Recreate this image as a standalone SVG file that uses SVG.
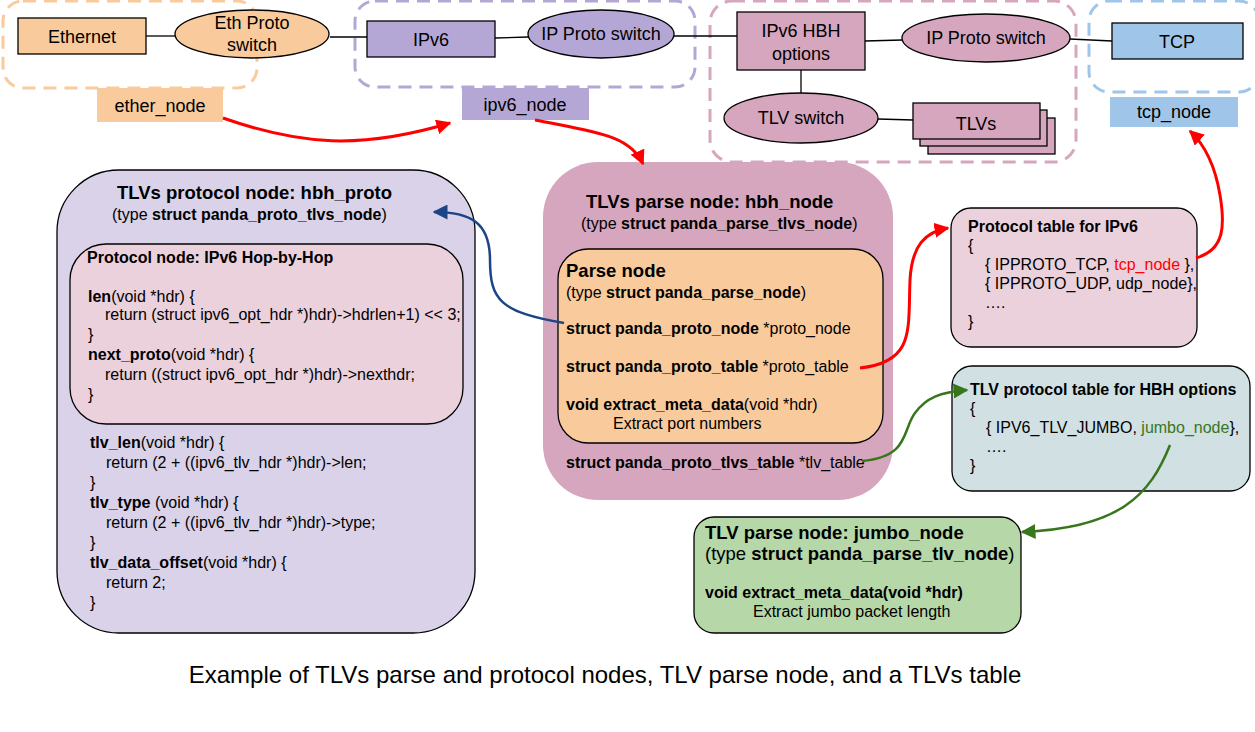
<svg xmlns="http://www.w3.org/2000/svg" width="1255" height="732" viewBox="0 0 1255 732">
<defs>
<style>
text{font-family:"Liberation Sans",Arial,sans-serif;fill:#000}
.n{stroke:#000;stroke-width:1.3}
.dash{fill:none;stroke-width:3;stroke-dasharray:13 8}
.lbl{font-size:18px}
.t{font-size:18.5px;font-weight:bold}
.s{font-size:16px}
.c{font-size:16px}
.b{font-weight:bold}
.ln{stroke:#000;stroke-width:1.3;fill:none}
.red{stroke:#ff0000;stroke-width:3;fill:none}
.blue{stroke:#1c4587;stroke-width:2.5;fill:none}
.green{stroke:#38761d;stroke-width:2.5;fill:none}
</style>
<marker id="ar" viewBox="0 0 10 10" refX="9" refY="5" markerWidth="5" markerHeight="5" orient="auto" markerUnits="strokeWidth"><path d="M0,0 L10,5 L0,10 z" fill="#ff0000"/></marker>
<marker id="ab" viewBox="0 0 10 10" refX="9" refY="5" markerWidth="6" markerHeight="6" orient="auto" markerUnits="strokeWidth"><path d="M0,0 L10,5 L0,10 z" fill="#1c4587"/></marker>
<marker id="ag" viewBox="0 0 10 10" refX="9" refY="5" markerWidth="6" markerHeight="6" orient="auto" markerUnits="strokeWidth"><path d="M0,0 L10,5 L0,10 z" fill="#38761d"/></marker>
</defs>
<rect width="1255" height="732" fill="#fff"/>

<g id="groups">
<rect x="3" y="1" width="254" height="87" rx="20" class="dash" stroke="#f9cb9c"/>
<rect x="355" y="1" width="340" height="86" rx="20" class="dash" stroke="#b4a7d6"/>
<rect x="710" y="1" width="366" height="161" rx="22" class="dash" stroke="#d5a6bd"/>
<rect x="1089" y="1" width="170" height="91" rx="20" class="dash" stroke="#9fc5e8"/>
</g>

<g id="connectors">
<line x1="146" y1="36" x2="175" y2="36" class="ln"/>
<line x1="330" y1="37" x2="367" y2="37" class="ln"/>
<line x1="495" y1="38" x2="528" y2="37" class="ln"/>
<line x1="674" y1="36" x2="737" y2="36" class="ln"/>
<line x1="865" y1="41" x2="902" y2="40" class="ln"/>
<line x1="1070" y1="39" x2="1112" y2="41" class="ln"/>
<line x1="801" y1="70" x2="801" y2="94" class="ln"/>
<line x1="878" y1="119" x2="913" y2="120" class="ln"/>
</g>

<g id="ethernet"><rect x="18" y="18" width="128" height="36" fill="#f9cb9c" class="n"/><text x="82" y="43" text-anchor="middle" class="lbl">Ethernet</text></g>
<g id="eth-switch"><ellipse cx="252" cy="34" rx="77" ry="24" fill="#f9cb9c" class="n"/><text x="252" y="29" text-anchor="middle" class="lbl">Eth Proto</text><text x="252" y="51" text-anchor="middle" class="lbl">switch</text></g>
<g id="ipv6"><rect x="367" y="21" width="128" height="36" fill="#b4a7d6" class="n"/><text x="431" y="46" text-anchor="middle" class="lbl">IPv6</text></g>
<g id="ip-switch1"><ellipse cx="601" cy="34" rx="73" ry="24" fill="#b4a7d6" class="n"/><text x="601" y="40" text-anchor="middle" class="lbl">IP Proto switch</text></g>
<g id="hbh"><rect x="737" y="12" width="128" height="58" fill="#d5a6bd" class="n"/><text x="801" y="37" text-anchor="middle" class="lbl">IPv6 HBH</text><text x="801" y="60" text-anchor="middle" class="lbl">options</text></g>
<g id="ip-switch2"><ellipse cx="986" cy="38" rx="84" ry="24" fill="#d5a6bd" class="n"/><text x="986" y="44" text-anchor="middle" class="lbl">IP Proto switch</text></g>
<g id="tcp"><rect x="1112" y="23" width="131" height="36" fill="#9fc5e8" class="n"/><text x="1177" y="48" text-anchor="middle" class="lbl">TCP</text></g>
<g id="tlv-switch"><ellipse cx="801" cy="118" rx="77" ry="25" fill="#d5a6bd" class="n"/><text x="801" y="124" text-anchor="middle" class="lbl">TLV switch</text></g>
<g id="tlvs">
<rect x="928" y="118" width="127" height="36" fill="#d5a6bd" class="n"/>
<rect x="920" y="110" width="127" height="36" fill="#d5a6bd" class="n"/>
<rect x="913" y="103" width="127" height="36" fill="#d5a6bd" class="n"/>
<text x="976" y="130" text-anchor="middle" class="lbl">TLVs</text></g>

<g id="ether_node"><rect x="97" y="88" width="126" height="34" fill="#f9cb9c"/><text x="160" y="112" text-anchor="middle" class="lbl">ether_node</text></g>
<g id="ipv6_node"><rect x="462" y="88" width="127" height="32" fill="#b4a7d6"/><text x="525" y="111" text-anchor="middle" class="lbl">ipv6_node</text></g>
<g id="tcp_node"><rect x="1110" y="97" width="128" height="30" fill="#9fc5e8"/><text x="1174" y="118" text-anchor="middle" class="lbl">tcp_node</text></g>

<g id="hbh_proto">
<rect x="57" y="170" width="418" height="463" rx="62" fill="#d9d2e9" class="n"/>
<text x="117" y="199" class="t">TLVs protocol node: hbh_proto</text>
<text x="112" y="220" class="s">(type <tspan class="b">struct panda_proto_tlvs_node</tspan>)</text>
<rect x="70" y="244" width="393" height="180" rx="36" fill="#ead1dc" class="n"/>
<text x="87" y="263" class="c b">Protocol node: IPv6 Hop-by-Hop</text>
<text x="88" y="302" class="c"><tspan class="b">len</tspan>(void *hdr) {</text>
<text x="105" y="320" class="c">return (struct ipv6_opt_hdr *)hdr)-&gt;hdrlen+1) &lt;&lt; 3;</text>
<text x="88" y="340" class="c">}</text>
<text x="88" y="360" class="c"><tspan class="b">next_proto</tspan>(void *hdr) {</text>
<text x="105" y="380" class="c">return ((struct ipv6_opt_hdr *)hdr)-&gt;nexthdr;</text>
<text x="88" y="400" class="c">}</text>
<text x="90" y="448" class="c"><tspan class="b">tlv_len</tspan>(void *hdr) {</text>
<text x="106" y="468" class="c">return (2 + ((ipv6_tlv_hdr *)hdr)-&gt;len;</text>
<text x="90" y="488" class="c">}</text>
<text x="90" y="508" class="c"><tspan class="b">tlv_type</tspan> (void *hdr) {</text>
<text x="106" y="528" class="c">return (2 + ((ipv6_tlv_hdr *)hdr)-&gt;type;</text>
<text x="90" y="548" class="c">}</text>
<text x="90" y="568" class="c"><tspan class="b">tlv_data_offset</tspan>(void *hdr) {</text>
<text x="106" y="588" class="c">return 2;</text>
<text x="90" y="608" class="c">}</text>
</g>

<g id="hbh_node">
<rect x="543" y="162" width="350" height="338" rx="55" fill="#d5a6bd"/>
<text x="586" y="208" class="t">TLVs parse node: hbh_node</text>
<text x="581" y="229" class="s">(type <tspan class="b">struct panda_parse_tlvs_node</tspan>)</text>
<rect x="558" y="249" width="325" height="194" rx="30" fill="#f9cb9c" class="n"/>
<text x="566" y="277" class="t">Parse node</text>
<text x="566" y="298" class="c">(type <tspan class="b">struct panda_parse_node</tspan>)</text>
<text x="566" y="334" class="c"><tspan class="b">struct panda_proto_node</tspan> *proto_node</text>
<text x="566" y="372" class="c"><tspan class="b">struct panda_proto_table</tspan> *proto_table</text>
<text x="566" y="410" class="c"><tspan class="b">void extract_meta_data</tspan>(void *hdr)</text>
<text x="613" y="429" class="c">Extract port numbers</text>
<text x="566" y="468" class="c"><tspan class="b">struct panda_proto_tlvs_table</tspan> *tlv_table</text>
</g>

<g id="ipv6_table">
<rect x="951" y="208" width="246" height="139" rx="20" fill="#ead1dc" class="n"/>
<text x="968" y="232" class="c b">Protocol table for IPv6</text>
<text x="968" y="251" class="c">{</text>
<text x="985" y="270" class="c">{ IPPROTO_TCP, <tspan fill="#ff0000">tcp_node</tspan> },</text>
<text x="985" y="289" class="c">{ IPPROTO_UDP, udp_node},</text>
<text x="985" y="308" class="c">….</text>
<text x="968" y="327" class="c">}</text>
</g>

<g id="tlv_table">
<rect x="952" y="366" width="298" height="125" rx="20" fill="#d0e0e3" class="n"/>
<text x="970" y="395" class="c b">TLV protocol table for HBH options</text>
<text x="970" y="414" class="c">{</text>
<text x="986" y="433" class="c">{ IPV6_TLV_JUMBO, <tspan fill="#38761d">jumbo_node</tspan>},</text>
<text x="986" y="452" class="c">….</text>
<text x="970" y="471" class="c">}</text>
</g>

<g id="jumbo_node">
<rect x="694" y="517" width="327" height="116" rx="20" fill="#b6d7a8" class="n"/>
<text x="705" y="539" class="t">TLV parse node: jumbo_node</text>
<text x="705" y="560" class="t"><tspan font-weight="normal">(type </tspan>struct panda_parse_tlv_node<tspan font-weight="normal">)</tspan></text>
<text x="705" y="598" class="c b">void extract_meta_data(void *hdr)</text>
<text x="753" y="617" class="c">Extract jumbo packet length</text>
</g>

<g id="arrows">
<path d="M223,118 C300,145 360,150 450,123" class="red" marker-end="url(#ar)"/>
<path d="M535,120 C595,132 630,135 643,164" class="red" marker-end="url(#ar)"/>
<path d="M860,368 C915,362 908,330 910,280 C912,245 925,232 948,228" class="red" marker-end="url(#ar)"/>
<path d="M1196,258 C1225,250 1225,225 1220,195 C1215,165 1205,145 1190,131" class="red" marker-end="url(#ar)"/>
<path d="M564,323 C500,312 490,300 490,260 C490,222 470,212 434,212" class="blue" marker-end="url(#ab)"/>
<path d="M862,461 C910,457 902,430 915,413 C926,398 940,392 967,390" class="green" marker-end="url(#ag)"/>
<path d="M1170,445 C1150,495 1120,528 1022,532" class="green" marker-end="url(#ag)"/>
</g>

<text x="605" y="683" text-anchor="middle" font-size="24px">Example of TLVs parse and protocol nodes, TLV parse node, and a TLVs table</text>
</svg>
